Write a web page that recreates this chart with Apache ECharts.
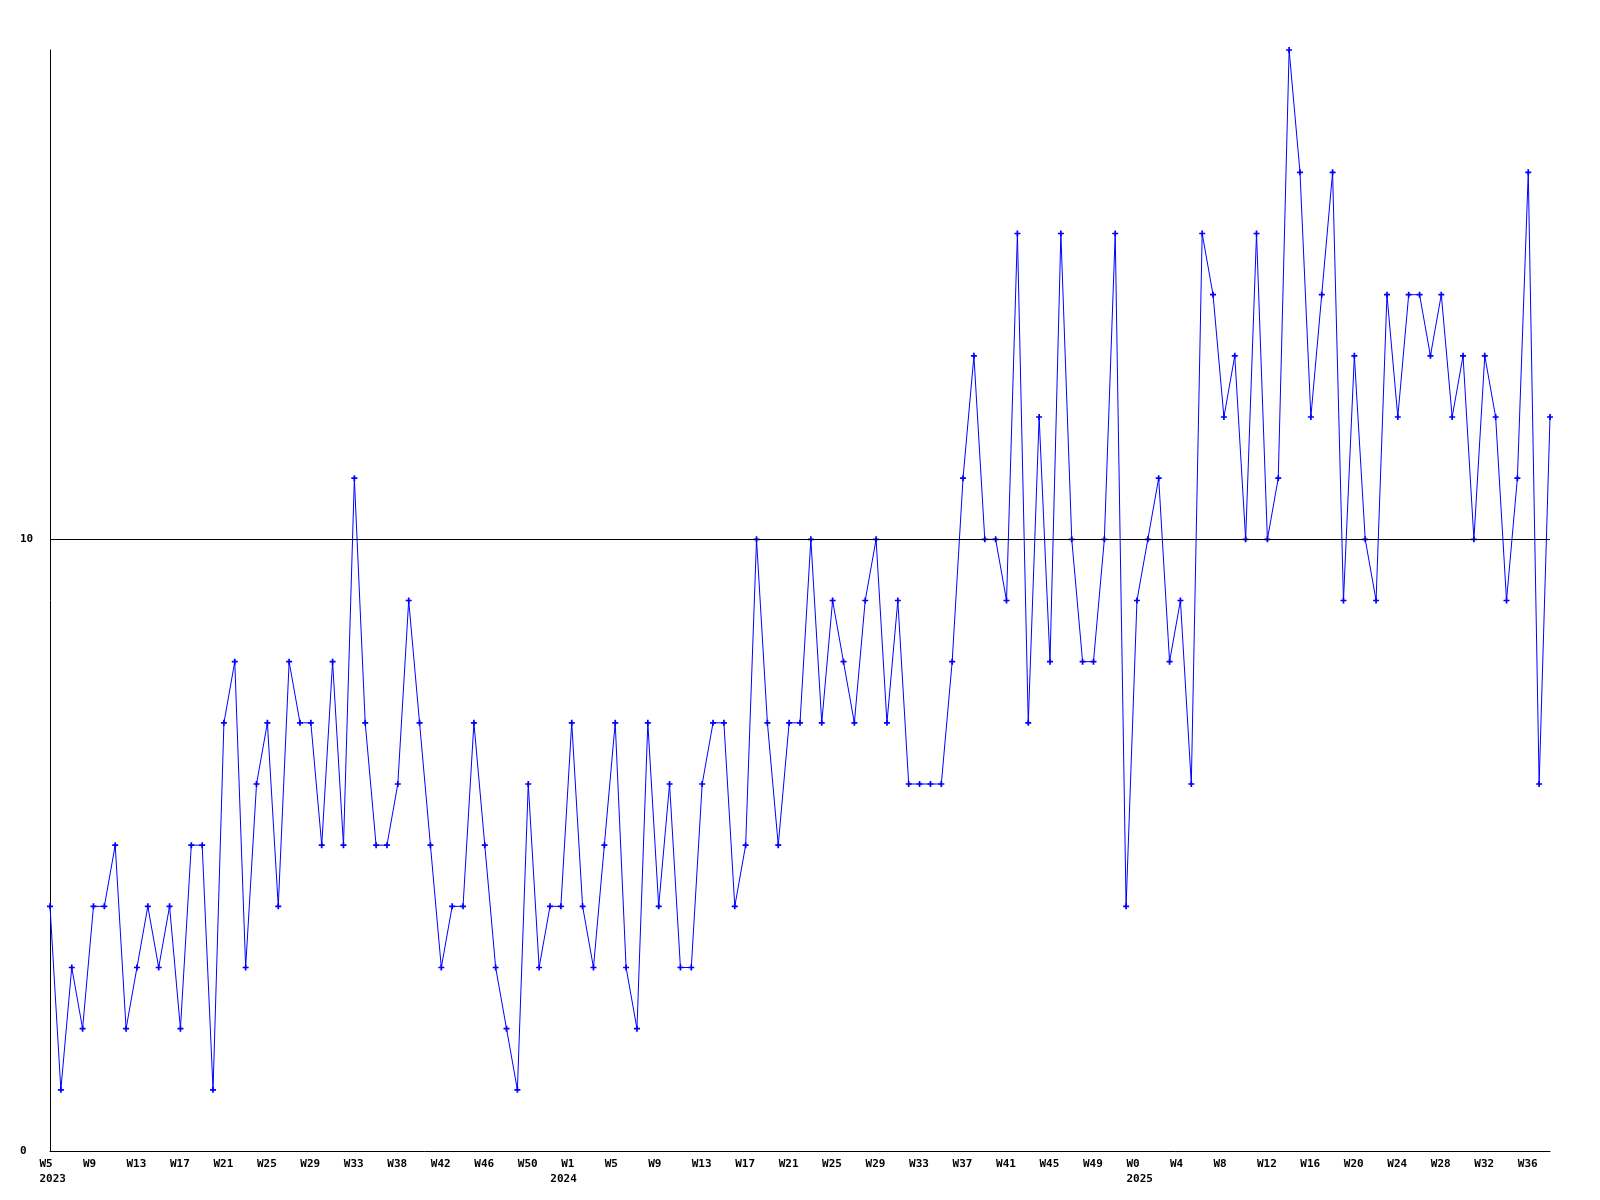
<!DOCTYPE html>
<html>
<head>
<meta charset="utf-8">
<script src="https://cdn.jsdelivr.net/npm/echarts@6/dist/echarts.min.js"></script>
<style>
html,body{margin:0;padding:0;background:#fff;}
#chart{width:1600px;height:1200px;}
</style>
</head>
<body>
<div id="chart"></div>
<script>
// Week categories per year
const weeks2023 = ['W5','W6','W7','W8','W9','W10','W11','W12','W13','W14','W15','W16','W17','W18','W19','W20','W21','W22','W23','W24','W25','W26','W27','W28','W29','W30','W31','W32','W33','W35','W36','W37','W38','W39','W40','W41','W42','W43','W44','W45','W46','W47','W48','W49','W50','W51','W52','W53'];
const weeks2024 = ['W1','W2','W3','W4','W5','W6','W7','W8','W9','W10','W11','W12','W13','W14','W15','W16','W17','W18','W19','W20','W21','W22','W23','W24','W25','W26','W27','W28','W29','W30','W31','W32','W33','W34','W35','W36','W37','W38','W39','W40','W41','W42','W43','W44','W45','W46','W47','W48','W49','W50','W51','W52'];
const weeks2025 = ['W0','W1','W2','W3','W4','W5','W6','W7','W8','W9','W10','W11','W12','W13','W14','W15','W16','W17','W18','W19','W20','W21','W22','W23','W24','W25','W26','W27','W28','W29','W30','W31','W32','W33','W34','W35','W36','W37','W38'];

// Year labels and the category position where each is printed
const yearLabels = ['2023','2024','2025'];
const yearLabelIndex = [0, 47, 100];

// Values per year
const values2023 = [4,1,3,2,4,4,5,2,3,4, 3,4,2,5,5,1,7,8,3,6, 7,4,8,7,7,5,8,5,11,7, 5,5,6,9,7,5,3,4,4,7, 5,3,2,1,6,3,4,4];
const values2024 = [7,4, 3,5,7,3,2,7,4,6,3,3, 6,7,7,4,5,10,7,5,7,7, 10,7,9,8,7,9,10,7,9,6, 6,6,6,8,11,13,10,10,9,15, 7,12,8,15,10,8,8,10,15,4];
const values2025 = [9,10,11,8,9,6,15,14,12,13, 10,15,10,11,18,16,12,14,16,9, 13,10,9,14,12,14,14,13,14,12, 13,10,13,12,9,11,16,6,12];

// Y tick labels shown
const yTickLabels = [0, 10];
const refLineValue = 10;

const categories = weeks2023.concat(weeks2024, weeks2025);
const values = values2023.concat(values2024, values2025);

const font = 'DejaVu Sans Mono';
const labelBase = {
  align: 'left',
  padding: [0, 0, 0, -10.5],
  color: '#000',
  fontFamily: font,
  fontWeight: 'bold',
  fontSize: 11,
  lineHeight: 15
};
const chart = echarts.init(document.getElementById('chart'), null, {renderer: 'canvas'});
chart.setOption({
  animation: false,
  backgroundColor: '#ffffff',
  grid: {left: 50, right: 50, top: 50, bottom: 49, containLabel: false},
  xAxis: [{
    type: 'category',
    data: categories,
    boundaryGap: false,
    axisLine: {show: true, lineStyle: {color: '#000', width: 1}},
    axisTick: {show: false},
    splitLine: {show: false},
    axisLabel: Object.assign({}, labelBase, {interval: 3, margin: 6})
  }, {
    type: 'category',
    data: categories,
    boundaryGap: false,
    position: 'bottom',
    axisLine: {show: false},
    axisTick: {show: false},
    splitLine: {show: false},
    axisLabel: Object.assign({}, labelBase, {
      margin: 21,
      interval: function (idx) { return yearLabelIndex.indexOf(idx) >= 0; },
      formatter: function (val, idx) {
        const k = yearLabelIndex.indexOf(idx);
        return k >= 0 ? yearLabels[k] : '';
      }
    })
  }],
  yAxis: {
    type: 'value',
    min: 0,
    max: 18,
    interval: 10,
    axisLine: {show: true, lineStyle: {color: '#000', width: 1}},
    axisTick: {show: false},
    splitLine: {show: false},
    axisLabel: {
      margin: 30,
      align: 'left',
      color: '#000',
      fontFamily: font,
      fontWeight: 'bold',
      fontSize: 11,
      formatter: function (v) { return yTickLabels.indexOf(v) >= 0 ? String(v) : ''; }
    }
  },
  series: [{
    type: 'line',
    xAxisIndex: 0,
    data: values,
    symbol: 'path://M2.5,0H4.5V2.5H7V4.5H4.5V7H2.5V4.5H0V2.5H2.5Z',
    symbolSize: 6,
    showAllSymbol: true,
    itemStyle: {color: '#0000ff', borderWidth: 0},
    lineStyle: {color: '#0000ff', width: 1},
    markLine: {
      silent: true,
      symbol: 'none',
      label: {show: false},
      lineStyle: {color: '#000', width: 1, type: 'solid'},
      data: [{yAxis: refLineValue}]
    },
    z: 3
  }]
});
</script>
</body>
</html>
